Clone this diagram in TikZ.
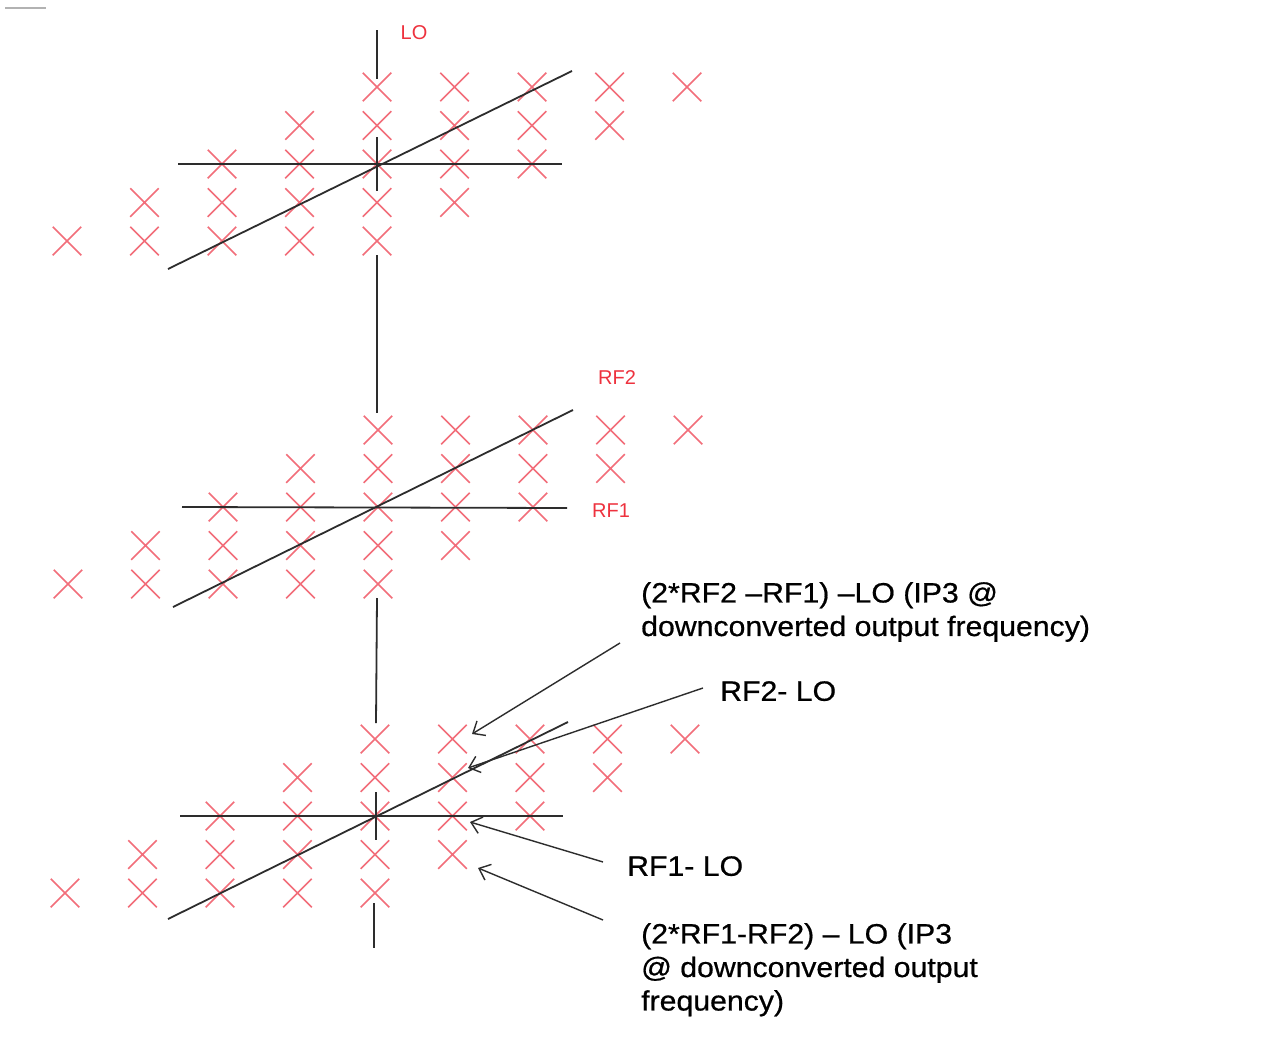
\documentclass[tikz,border=0pt]{standalone}
\usepackage{fontspec}
\setmainfont{Liberation Sans}
\newfontfamily\lblfont[FakeStretch=1.08,FakeBold=0.6]{Liberation Sans}
\usetikzlibrary{shapes.misc,arrows.meta}
\definecolor{crossred}{RGB}{242,110,122}
\definecolor{txtred}{RGB}{238,50,62}
\definecolor{axisgray}{RGB}{45,45,45}
\tikzset{
  xm/.style={cross out, draw=crossred, line width=1.5pt, minimum width=27pt, minimum height=27pt, inner sep=0pt},
  axis/.style={draw=axisgray, line width=1.8pt},
  redlbl/.style={text=txtred, font=\fontsize{20}{22}\selectfont, inner sep=0pt},
  blklbl/.style={text=black, font=\lblfont\fontsize{28}{33.5}\selectfont, inner sep=0pt, align=left, anchor=north west},
  callout/.style={draw=axisgray, line width=1.4pt, -{Straight Barb[length=10pt,width=17pt,line width=1.4pt]}}
}
\begin{document}
\begin{tikzpicture}[x=1pt,y=-1pt]
\fill[white] (0,0) rectangle (1270,1055);
\useasboundingbox (0,0) rectangle (1270,1055);
% small mark top-left
\draw[draw=gray!60, line width=1.5pt] (5,8) -- (46,8);
% crosses
\foreach \g/\cx/\cy in {1/377/164, 2/378/507, 3/375/816}{
  \foreach \r in {0,...,4}{
    \foreach \k in {0,...,4}{
      \pgfmathtruncatemacro\i{\k+4-\r}
      \pgfmathsetmacro\xx{\cx+(\k-\r)*77.5}
      \pgfmathsetmacro\yy{\cy+(\r-2)*38.5}
      \node[xm] (c\g-\r-\i) at (\xx,\yy) {};
    }
  }
}
% group 1 axes
\coordinate (lo1top) at (377,30);
\coordinate (lo1bot) at (377,79);
\draw[axis] (lo1top) -- (lo1bot);
\draw[axis] (377,137) -- (377,191);
\draw[axis] (178,164) -- (562,164);
\draw[axis] (168,269) -- (572,71);
\node[redlbl] (lbllo) at (414,33) {LO};
% connector group 1 -> group 2
\coordinate (g1down) at (377,255);
\coordinate (g2up) at (377,413);
\draw[axis] (g1down) -- (g2up);
% group 2 axes
\draw[axis] (182,507) -- (567,508);
\draw[axis] (173,607) -- (573,410);
\node[redlbl] (lblrf2) at (617,378) {RF2};
\node[redlbl] (lblrf1) at (611,511) {RF1};
% connector group 2 -> group 3
\coordinate (g2down) at (377,598);
\coordinate (g3up) at (376,723);
\draw[axis] (g2down) -- (g3up);
% group 3 axes
\draw[axis] (376,792) -- (376,840);
\draw[axis] (374,903) -- (374,948);
\draw[axis] (180,816) -- (563,816);
\draw[axis] (168,919) -- (568,722);
% labels
\node[blklbl] (t1) at (641,582) {(2*RF2 –RF1) –LO (IP3 @\\downconverted output frequency)};
\node[blklbl] (t2) at (720,681) {RF2- LO};
\node[blklbl] (t3) at (627,856) {RF1- LO};
\node[blklbl] (t4) at (641,923) {(2*RF1-RF2) – LO (IP3\\@ downconverted output\\frequency)};
% callout arrows
\coordinate (a1s) at (620,643);
\coordinate (a1e) at (472,734);
\coordinate (a2s) at (703,688);
\coordinate (a2e) at (468,768);
\coordinate (a3s) at (603,862);
\coordinate (a3e) at (470,822);
\coordinate (a4s) at (603,920);
\coordinate (a4e) at (478,868);
\draw[callout] (a1s) -- (a1e);
\draw[callout] (a2s) -- (a2e);
\draw[callout] (a3s) -- (a3e);
\draw[callout] (a4s) -- (a4e);
\end{tikzpicture}
\end{document}
